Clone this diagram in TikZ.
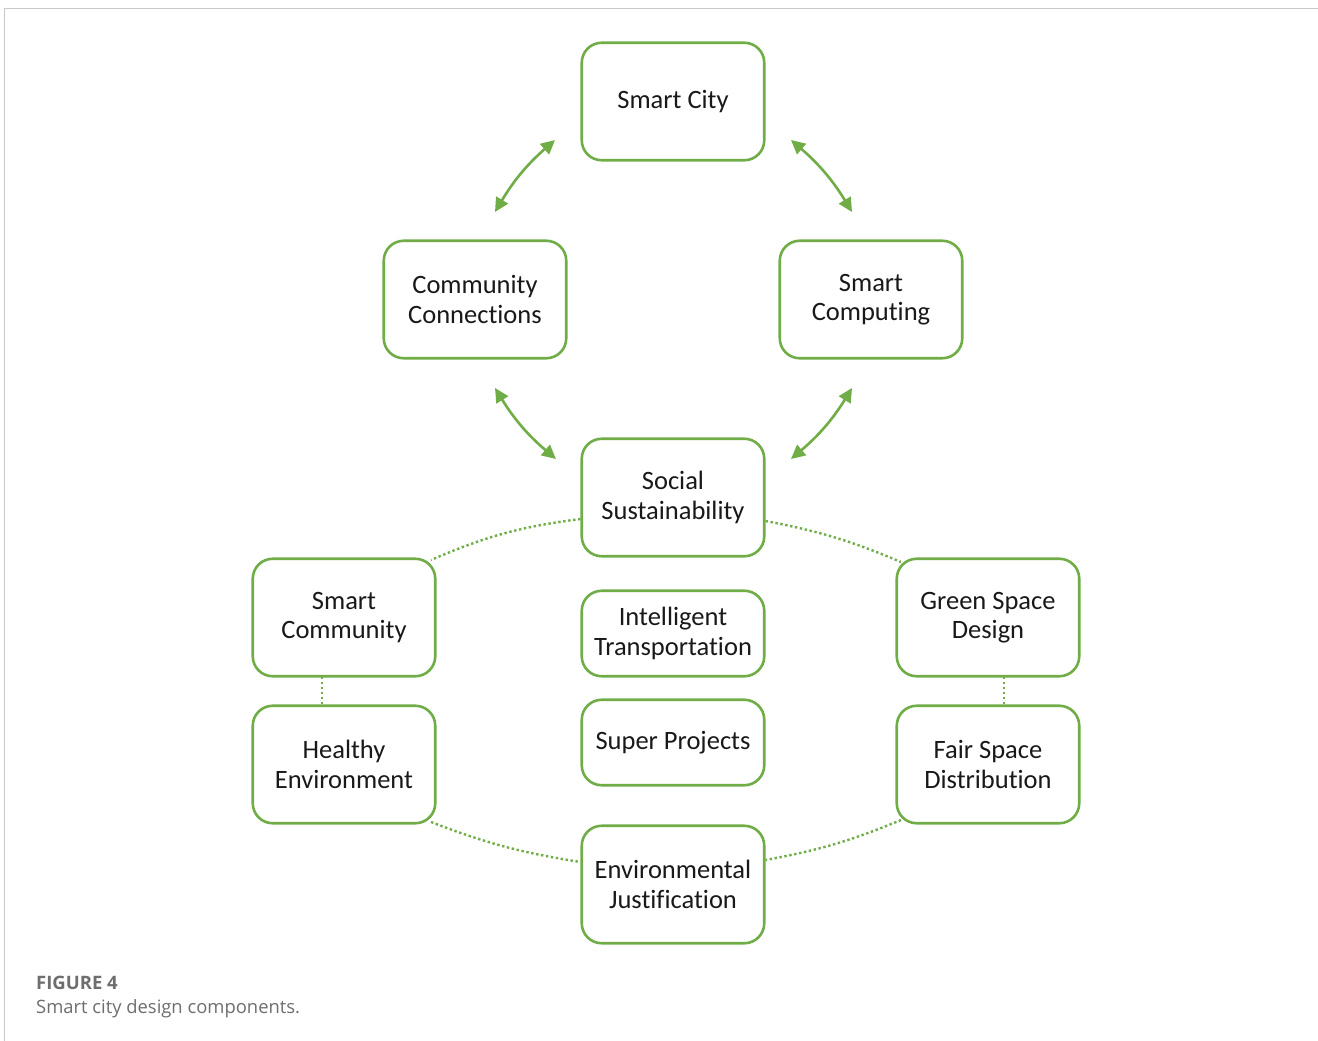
\documentclass[tikz,border=0pt]{standalone}
\usepackage{fontspec}
\setmainfont{Carlito}[Ligatures=NoCommon]
\newfontfamily\capfont{Open Sans}
\usetikzlibrary{arrows.meta}
\definecolor{boxgreen}{RGB}{112,173,71}
\definecolor{framegray}{RGB}{200,200,200}
\definecolor{capgray}{RGB}{110,110,110}
\begin{document}
\begin{tikzpicture}[x=1pt,y=-1pt,
  box/.style={draw=boxgreen, line width=2.6pt, rounded corners=20pt, fill=white,
    minimum width=182.5pt, minimum height=117.5pt, align=center, inner sep=0pt,
    font=\fontsize{26.5}{29.5}\selectfont, text=black!90},
  shortbox/.style={box, minimum height=85.5pt},
  link/.style={draw=boxgreen, line width=2.6pt, {Triangle[length=14pt,width=13.5pt]}-{Triangle[length=14pt,width=13.5pt]}},
  dots/.style={draw=boxgreen, line width=2.4pt, dash pattern=on 2.4pt off 2.6pt}
]
\useasboundingbox (0,0) rectangle (1318,1041);
\fill[white] (0,0) rectangle (1318,1041);
\draw[framegray, line width=1.5pt] (4.5,1041) -- (4.5,8.5) -- (1318,8.5);

\node[box] (city) at (673,101.5) {Smart City};
\node[box] (cc) at (475,299.5) {Community\\Connections};
\node[box] (sc) at (871,299.5) {Smart\\Computing};
\node[box] (ss) at (673,497.5) {Social\\Sustainability};
\node[box] (scom) at (344,617.5) {Smart\\Community};
\node[box] (gsd) at (988,617.5) {Green Space\\Design};
\node[shortbox] (it) at (673,633.5) {Intelligent\\Transportation};
\node[shortbox] (sp) at (673,742.5) {Super Projects};
\node[box] (he) at (344,764.5) {Healthy\\Environment};
\node[box] (fsd) at (988,764.5) {Fair Space\\Distribution};
\node[box] (ej) at (673,884.5) {Environmental\\Justification};

% free arrow ends
\coordinate (a1s) at (495,212);
\coordinate (a1e) at (555,140);
\coordinate (a2s) at (791,140);
\coordinate (a2e) at (852,212);
\coordinate (a3s) at (495,388);
\coordinate (a3e) at (556,459);
\coordinate (a4s) at (791,459);
\coordinate (a4e) at (852,388);

\draw[link] (a1s) to[bend left=9] (a1e);
\draw[link] (a2s) to[bend left=9] (a2e);
\draw[link] (a3s) to[bend right=9] (a3e);
\draw[link] (a4s) to[bend right=9] (a4e);

% dotted connectors
\draw[dots] (ss.west |- 0,519) to[bend right=8] (431,560);
\draw[dots] (ss.east |- 0,521) to[bend left=6] (901,562);
\draw[dots] (322,677) -- (322,705);
\draw[dots] (1004,677) -- (1004,705);
\draw[dots] (431,822) to[bend right=6] (ej.west |- 0,862);
\draw[dots] (901,820) to[bend left=6] (ej.east |- 0,860);

\node[anchor=base west, inner sep=0pt, text=capgray, font=\capfont\bfseries\fontsize{18.5}{22}\selectfont] (fig) at (36,989) {FIGURE 4};
\node[anchor=base west, inner sep=0pt, text=capgray, font=\capfont\fontsize{18.4}{22}\selectfont] (cap) at (36,1013) {Smart city design components.};
\end{tikzpicture}
\end{document}
